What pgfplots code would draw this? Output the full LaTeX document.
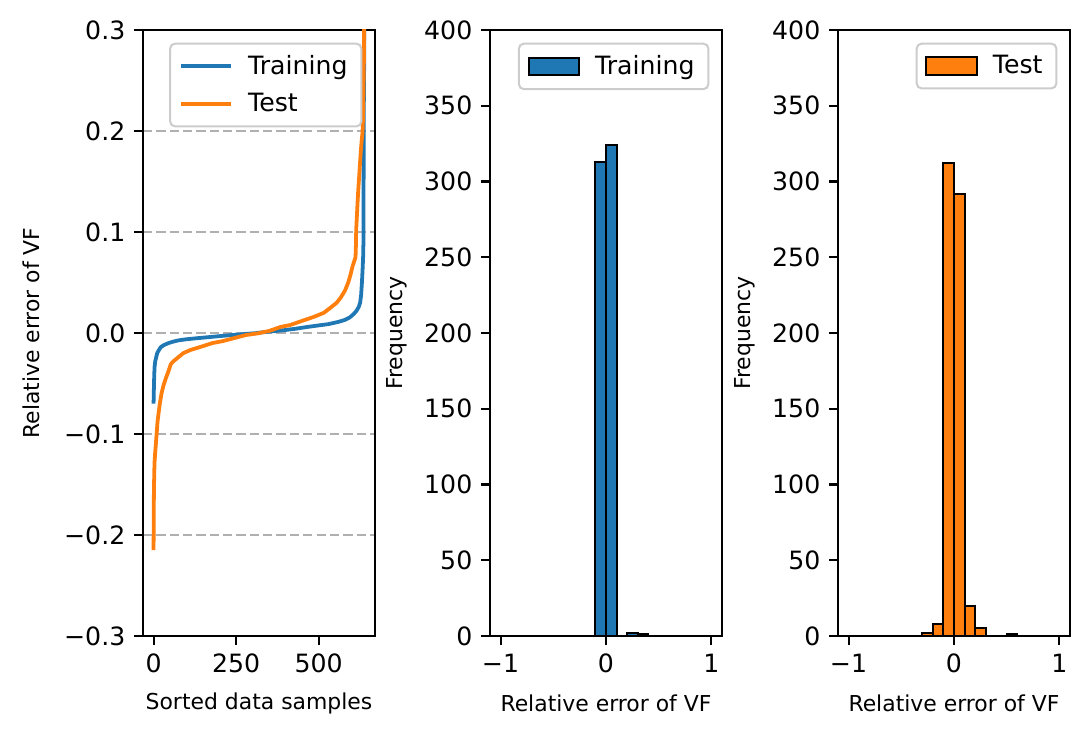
\documentclass[border=0pt]{standalone}
\usepackage{fontspec}
\setmainfont{DejaVu Sans}
\usepackage{pgfplots}
\pgfplotsset{compat=1.18}
\definecolor{c0}{HTML}{1F77B4}
\definecolor{c1}{HTML}{FF7F0E}
\definecolor{gridc}{HTML}{B0B0B0}
\newlength\pu
\setlength\pu{0.3956bp}
\pgfplotsset{
  mpl/.style={
    scale only axis, width=232\pu, height=606\pu,
    axis line style={line width=0.8pt},
    tick align=outside, xtick pos=left, ytick pos=left,
    major tick length=3.5pt,
    every tick/.style={black, line width=0.8pt},
    tick label style={font=\fontsize{10}{12}\selectfont},
    label style={font=\fontsize{8.7}{10}\selectfont},
    /pgf/number format/assume math mode=true,
    minor tick num=0,
    legend style={at={(1,1)}, anchor=north east, xshift=-5pt, yshift=-5pt,
      draw=black!20, line width=0.8pt, rounded corners=2pt, fill=white,
      fill opacity=0.8, text opacity=1, font=\fontsize{10}{12}\selectfont,
      inner xsep=3.5pt, inner ysep=2.5pt, row sep=2pt, cells={anchor=west}},
    /tikz/every odd column/.append style={column sep=4pt},
    xlabel style={at={(axis description cs:0.5,-0.1106)}, anchor=center},
  },
  lineleg/.style={legend image code/.code={\draw[##1, draw opacity=1] (0pt,0pt) -- (20pt,0pt);}},
  barleg/.style={legend image code/.code={\draw[##1, sharp corners, fill, fill opacity=1, draw opacity=1] (0pt,-3.5pt) rectangle (20pt,3.5pt);}},
}
\begin{document}
\begin{tikzpicture}
\path[use as bounding box] (0,0) rectangle (1092\pu,736\pu);

% Panel 1: sorted relative errors
\begin{axis}[mpl, lineleg, at={(143\pu,100\pu)}, anchor=south west,
  xmin=-32, xmax=671, ymin=-0.3, ymax=0.3,
  xtick={0,250,500}, xticklabels={0,250,500},
  ytick={-0.3,-0.2,-0.1,0,0.1,0.2,0.3},
  yticklabels={−0.3,−0.2,−0.1,0.0,0.1,0.2,0.3},
  ymajorgrids, major grid style={gridc, line width=0.8pt, dash pattern=on 3.7pt off 1.6pt},
  xlabel={Sorted data samples}, ylabel={Relative error of VF},
  ylabel style={at={(axis description cs:-0.48,0.5)}, anchor=center},
]
\addplot[c0, line width=1.5pt, line join=round] coordinates {
(0,-0.070) (1,-0.055) (2,-0.042) (3,-0.034) (5,-0.028) (8,-0.024) (11,-0.020)
(16,-0.017) (22,-0.014) (31,-0.012) (45,-0.010) (60,-0.0085) (77,-0.0072)
(100,-0.0062) (130,-0.0052) (160,-0.0043) (190,-0.0034) (220,-0.0025)
(250,-0.0017) (280,-0.0009) (312,-0.0001) (313,0.0001) (340,0.0010)
(370,0.0020) (400,0.0030) (430,0.0042) (466,0.0060) (500,0.0075) (530,0.0088)
(560,0.0110) (580,0.0130) (595,0.0155) (607,0.0190) (615,0.0220) (622,0.0260)
(626,0.0300) (629,0.0380) (631,0.0480) (633,0.0600) (635,0.0750) (636,0.0900)
(637,0.2200) (638,0.2600) (639,0.3500)
};
\addlegendentry{Training}
\addplot[c1, line width=1.5pt, line join=round] coordinates {
(0,-0.215) (1,-0.160) (2,-0.140) (3,-0.128) (5,-0.118) (7,-0.110) (9,-0.101)
(10,-0.097) (12,-0.088) (15,-0.080) (19,-0.070) (24,-0.060) (30,-0.052)
(37,-0.045) (45,-0.038) (52,-0.031) (60,-0.028) (75,-0.024) (90,-0.020)
(110,-0.017) (140,-0.014) (178,-0.010) (210,-0.008) (245,-0.005) (280,-0.002)
(321,-0.0001) (322,0.0001) (350,0.002) (385,0.006) (415,0.008) (450,0.012)
(486,0.016) (516,0.020) (536,0.025) (555,0.030) (567,0.035) (580,0.042)
(590,0.050) (597,0.058) (603,0.066) (608,0.071) (612,0.075) (613,0.085)
(614,0.102) (616,0.115) (618,0.128) (620,0.140) (622,0.150) (625,0.165)
(628,0.180) (631,0.192) (633,0.198) (634,0.205) (635,0.220) (636,0.240)
(637,0.260) (638,0.290) (639,0.550)
};
\addlegendentry{Test}
\end{axis}

% Panel 2: training histogram
\begin{axis}[mpl, barleg, at={(490\pu,100\pu)}, anchor=south west,
  xmin=-1.1, xmax=1.1, ymin=0, ymax=400,
  xtick={-1,0,1}, xticklabels={−1,0,1},
  ytick={0,50,100,150,200,250,300,350,400},
  xlabel={Relative error of VF}, ylabel={Frequency},
  ylabel style={at={(axis description cs:-0.40,0.5)}, anchor=center},
]
\addplot[ybar interval, fill=c0, draw=black, line width=0.8pt] coordinates {
(-0.1,313) (0,324) (0.1,0) (0.2,2) (0.3,1) (0.4,0)
};
\addlegendentry{Training}
\end{axis}

% Panel 3: test histogram
\begin{axis}[mpl, barleg, at={(838\pu,100\pu)}, anchor=south west,
  xmin=-1.1, xmax=1.1, ymin=0, ymax=400,
  xtick={-1,0,1}, xticklabels={−1,0,1},
  ytick={0,50,100,150,200,250,300,350,400},
  xlabel={Relative error of VF}, ylabel={Frequency},
  ylabel style={at={(axis description cs:-0.40,0.5)}, anchor=center},
]
\addplot[ybar interval, fill=c1, draw=black, line width=0.8pt] coordinates {
(-0.3,2) (-0.2,8) (-0.1,312) (0,292) (0.1,20) (0.2,5) (0.3,0) (0.4,0) (0.5,1) (0.6,0)
};
\addlegendentry{Test}
\end{axis}
\end{tikzpicture}
\end{document}
